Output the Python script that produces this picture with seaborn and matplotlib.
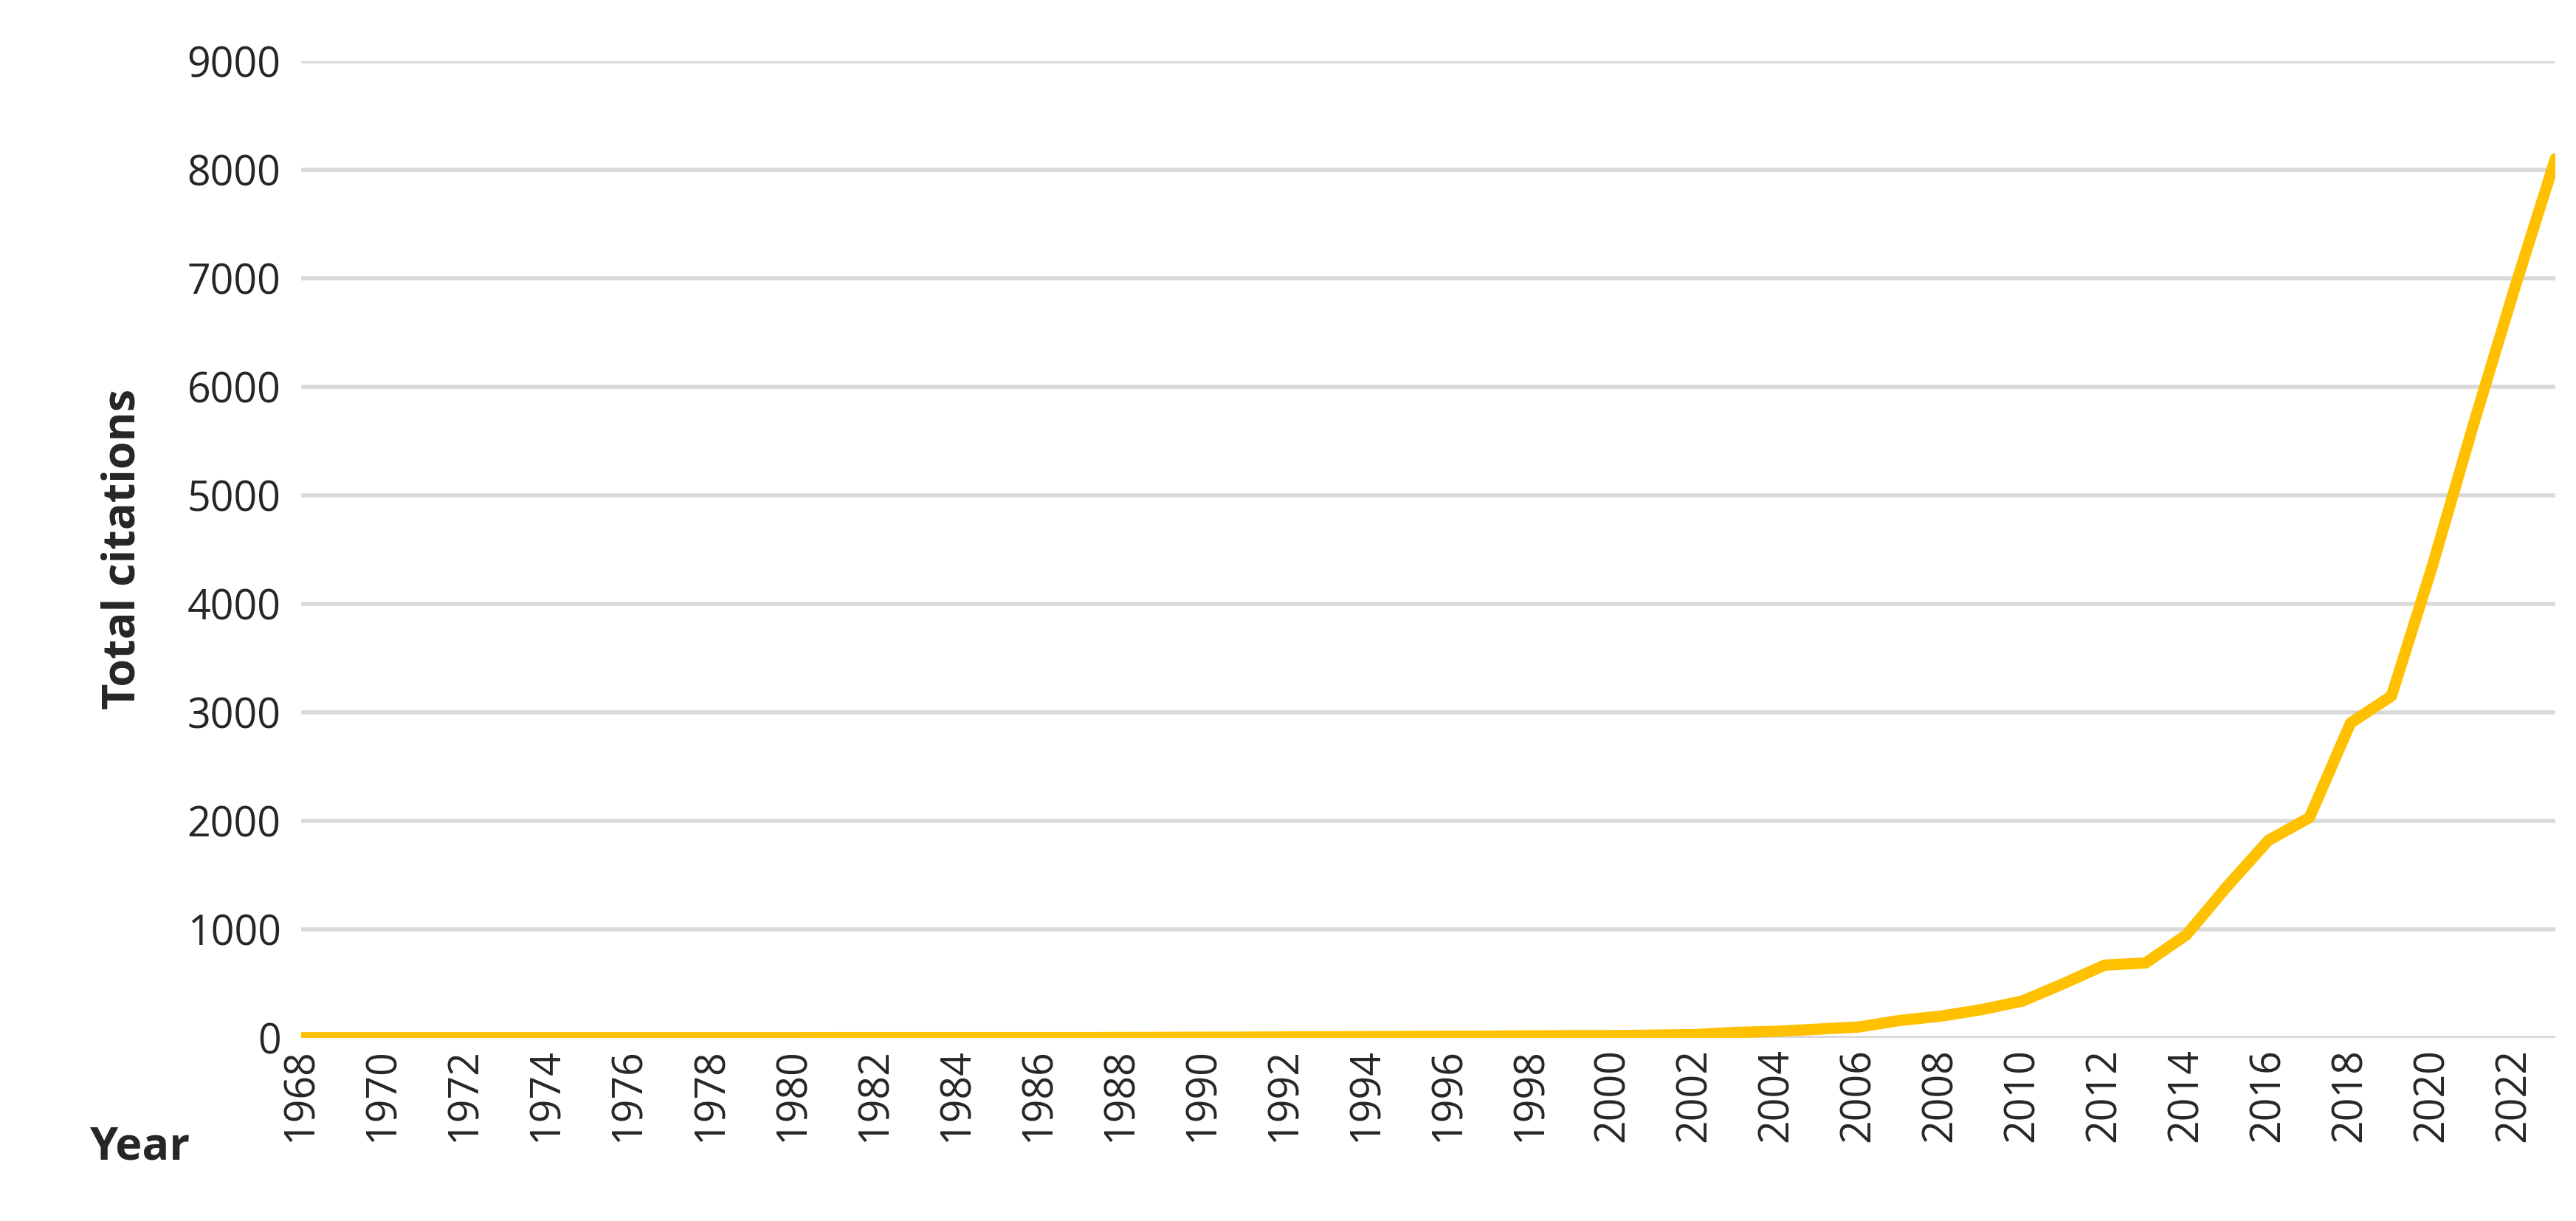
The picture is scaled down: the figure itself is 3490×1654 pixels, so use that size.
import matplotlib
matplotlib.use("Agg")
import matplotlib.pyplot as plt
import seaborn as sns
import pandas as pd

years = list(range(1968, 2024))
early = [1]*13 + [2]*7 + [3, 4, 5, 6, 8, 9, 10, 12, 14, 15, 18, 20]  # 1968-1999
late = [20, 25, 30, 50, 60, 80, 100, 160, 200, 260, 340, 500, 670, 690, 950,
        1400, 1820, 2030, 2900, 3150, 4350, 5650, 6900, 8100]  # 2000-2023
citations = early + late
df = pd.DataFrame({"Year": years, "Total citations": citations})

sns.set_theme(style="white")
plt.rcParams['font.family'] = ['Open Sans', 'DejaVu Sans']
fig = plt.figure(figsize=(34.9, 16.54), dpi=100)
ax = fig.add_axes([0.117, 0.15, 0.875, 0.80])
sns.lineplot(data=df, x="Year", y="Total citations", color="#FFC000", linewidth=11, ax=ax, solid_capstyle="round")
ax.set_xlim(1968, 2023)
ax.set_ylim(0, 9000)
ax.set_yticks(range(0, 9001, 1000))
ax.set_xticks(range(1968, 2023, 2))
ax.tick_params(axis='x', labelrotation=90, labelsize=40, length=0, pad=10)
ax.tick_params(axis='y', labelsize=40, length=0, pad=20)
ax.grid(axis='y', color="#D9D9D9", linewidth=4)
ax.set_axisbelow(True)
for s in ax.spines.values():
    s.set_visible(False)
ax.set_xlabel("")
ax.set_ylabel("Total citations", fontsize=44, fontweight="bold", labelpad=40)
fig.text(0.035, 0.06, "Year", fontsize=44, fontweight="bold", va="center")
fig.savefig("out.png", dpi=100)
